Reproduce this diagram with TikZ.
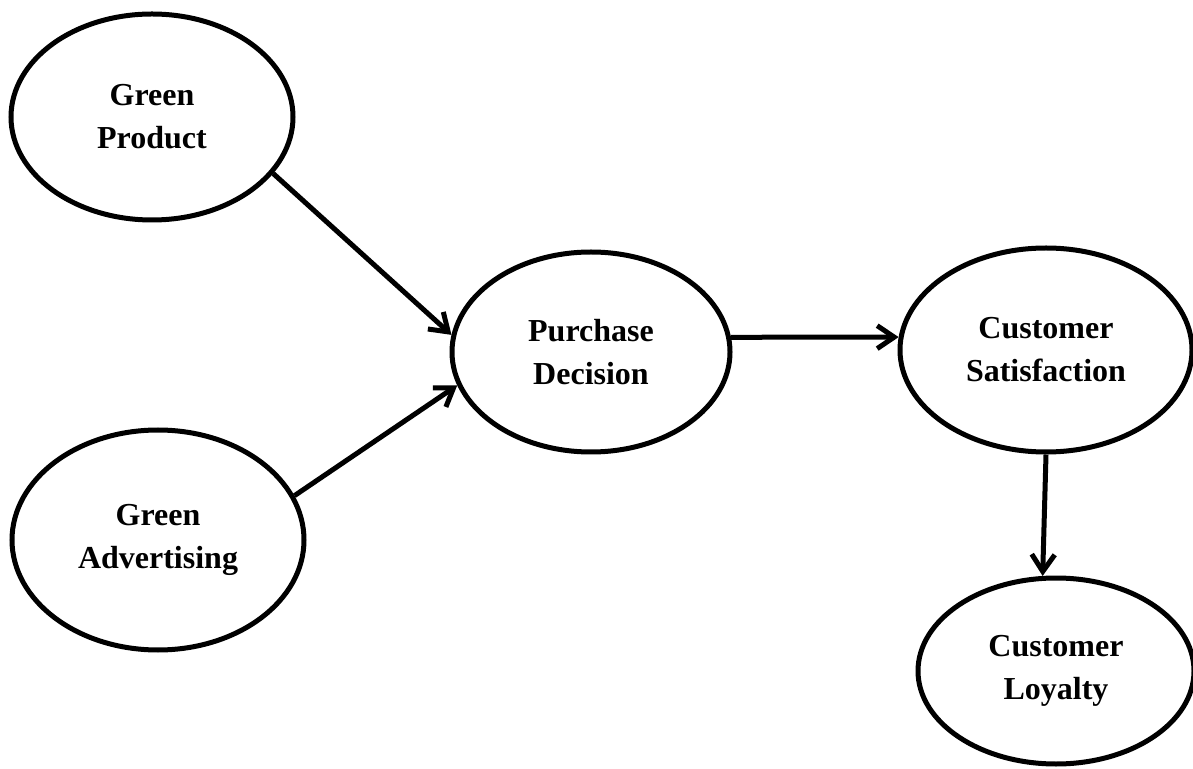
\documentclass[tikz,border=0pt]{standalone}
\usepackage{fontspec}
\setmainfont{Liberation Serif}
\usetikzlibrary{shapes.geometric, arrows.meta, positioning}

\begin{document}
\begin{tikzpicture}[x=0.5pt, y=0.5pt]
    % Styles du modèle
    \tikzset{
        factor/.style = {ellipse, draw, line width=2.5pt, inner sep=0pt, align=center, font=\fontsize{16}{21.5}\selectfont\bfseries},
        line/.style   = {draw, line width=2.5pt, -{Straight Barb[length=8.5pt, width=11.5pt]}}
    }
    \useasboundingbox (0,0) rectangle (1193,-769);

    % Variables indépendantes
    \node [factor, minimum width=141pt, minimum height=103pt] (gp) at (152,-117) {Green\\Product};
    \node [factor, minimum width=146pt, minimum height=110pt] (ga) at (158,-540) {Green\\Advertising};

    % Variable intermédiaire
    \node [factor, minimum width=139pt, minimum height=100pt] (pd) at (591,-352) {Purchase\\Decision};

    % Variables dépendantes
    \node [factor, minimum width=146pt, minimum height=102pt] (cs) at (1046,-350) {Customer\\Satisfaction};
    \node [factor, minimum width=138pt, minimum height=93pt] (cl) at (1056,-671) {Customer\\Loyalty};

    % Connexions
    \path [line] (gp.-25) -- (pd.173);
    \path [line] (ga.18) -- (pd.194);
    \path [line] (pd.6) -- (cs.175);
    \path [line] (cs.south) -- (cl.98);
\end{tikzpicture}
\end{document}
